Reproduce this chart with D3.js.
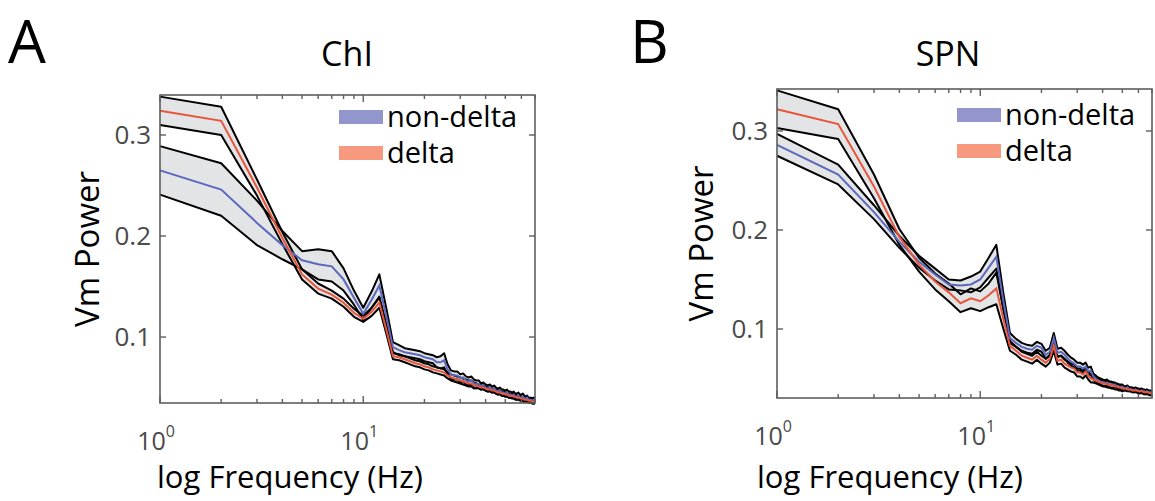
<!DOCTYPE html>
<html>
<head>
<meta charset="utf-8">
<script src="https://cdn.jsdelivr.net/npm/d3@7"></script>
<style>
  body { margin: 0; background: #fff; }
  svg { display: block; font-family: "Open Sans", "Noto Sans", sans-serif; }
</style>
</head>
<body>
<svg id="fig" width="1155" height="501"></svg>
<script>
// frequency bins (Hz)
var freq = [1,2,3,4,5,6,7,8,9,10,11,12,13,14,15,16,17,18,19,20,
  21,22,23,24,25,26,27,28,29,30,31,32,33,34,35,36,37,38,39,40,
  41,42,43,44,45,46,47,48,49,50,51,52,53,54,55,56,57,58,59,60,
  61,62,63,64,65,66,67,68,69,70]

// ChI - non-delta (mean, sem)
var chiNonMean = [0.265,0.246,0.213,0.191,0.176,0.172,0.170,0.157,0.139,0.123,
  0.137,0.151,0.120,0.090,0.087,0.085,0.084,0.083,0.082,0.080,
  0.079,0.078,0.075,0.075,0.077,0.068,0.063,0.062,0.062,0.059,
  0.060,0.057,0.056,0.057,0.054,0.053,0.054,0.051,0.052,0.050,
  0.049,0.050,0.048,0.049,0.047,0.046,0.047,0.045,0.045,0.044,
  0.045,0.043,0.043,0.042,0.043,0.041,0.041,0.042,0.040,0.040,
  0.041,0.039,0.039,0.040,0.038,0.038,0.038,0.037,0.038,0.037]
var chiNonErr = [0.024,0.026,0.022,0.014,0.009,0.015,0.015,0.011,0.007,0.006,
  0.008,0.011,0.008,0.005,0.005,0.004,0.004,0.004,0.004,0.004,
  0.004,0.004,0.005,0.006,0.007,0.005,0.004,0.004,0.004,0.004,
  0.004,0.004,0.004,0.004,0.004,0.004,0.003,0.003,0.003,0.003,
  0.003,0.003,0.003,0.003,0.003,0.003,0.003,0.003,0.003,0.003,
  0.003,0.003,0.003,0.003,0.003,0.003,0.003,0.003,0.003,0.003,
  0.003,0.003,0.002,0.002,0.002,0.002,0.002,0.002,0.002,0.002]

// ChI - delta
var chiDelMean = [0.324,0.314,0.248,0.198,0.162,0.148,0.142,0.134,0.124,0.118,
  0.125,0.134,0.107,0.081,0.080,0.078,0.076,0.074,0.073,0.071,
  0.070,0.068,0.067,0.066,0.065,0.062,0.060,0.059,0.058,0.057,
  0.056,0.055,0.054,0.054,0.052,0.052,0.051,0.050,0.050,0.049,
  0.048,0.048,0.047,0.047,0.046,0.045,0.045,0.044,0.044,0.043,
  0.043,0.042,0.042,0.042,0.041,0.041,0.040,0.040,0.040,0.039,
  0.039,0.038,0.038,0.038,0.037,0.037,0.037,0.036,0.036,0.036]
var chiDelErr = [0.014,0.014,0.008,0.006,0.005,0.005,0.004,0.004,0.004,0.003,
  0.004,0.005,0.004,0.003,0.003,0.003,0.003,0.003,0.003,0.003,
  0.003,0.003,0.003,0.003,0.003,0.003,0.003,0.003,0.003,0.003,
  0.003,0.003,0.003,0.003,0.003,0.002,0.002,0.002,0.002,0.002,
  0.002,0.002,0.002,0.002,0.002,0.002,0.002,0.002,0.002,0.002,
  0.002,0.002,0.002,0.002,0.002,0.002,0.002,0.002,0.002,0.002,
  0.002,0.002,0.002,0.002,0.002,0.002,0.002,0.002,0.002,0.002]

// SPN - non-delta
var spnNonMean = [0.286,0.256,0.218,0.188,0.168,0.155,0.145,0.144,0.145,0.150,
  0.162,0.173,0.128,0.091,0.086,0.082,0.080,0.079,0.083,0.081,
  0.074,0.077,0.091,0.076,0.077,0.074,0.070,0.067,0.065,0.062,
  0.062,0.060,0.062,0.057,0.058,0.052,0.050,0.048,0.047,0.046,
  0.045,0.046,0.044,0.044,0.043,0.044,0.042,0.042,0.041,0.042,
  0.040,0.040,0.041,0.039,0.039,0.039,0.038,0.039,0.038,0.038,
  0.037,0.038,0.037,0.037,0.036,0.037,0.036,0.036,0.036,0.035]
var spnNonErr = [0.011,0.010,0.007,0.006,0.006,0.006,0.005,0.005,0.008,0.008,
  0.010,0.012,0.008,0.005,0.004,0.004,0.004,0.004,0.004,0.004,
  0.004,0.004,0.005,0.004,0.004,0.004,0.004,0.004,0.004,0.004,
  0.004,0.004,0.004,0.004,0.004,0.003,0.003,0.003,0.003,0.003,
  0.003,0.003,0.003,0.003,0.003,0.002,0.002,0.002,0.002,0.002,
  0.002,0.002,0.002,0.002,0.002,0.002,0.002,0.002,0.002,0.002,
  0.002,0.002,0.002,0.002,0.002,0.002,0.002,0.002,0.002,0.002]

// SPN - delta
var spnDelMean = [0.322,0.307,0.244,0.193,0.165,0.148,0.137,0.126,0.131,0.128,
  0.134,0.141,0.110,0.083,0.078,0.073,0.071,0.069,0.073,0.069,
  0.066,0.070,0.083,0.068,0.069,0.065,0.063,0.061,0.060,0.056,
  0.056,0.054,0.057,0.053,0.050,0.049,0.048,0.047,0.046,0.045,
  0.045,0.044,0.044,0.043,0.043,0.042,0.042,0.041,0.041,0.040,
  0.040,0.040,0.039,0.039,0.039,0.038,0.038,0.038,0.038,0.037,
  0.037,0.037,0.037,0.036,0.036,0.036,0.036,0.035,0.035,0.035]
var spnDelErr = [0.019,0.015,0.012,0.008,0.007,0.008,0.009,0.009,0.010,0.010,
  0.012,0.016,0.010,0.005,0.004,0.004,0.004,0.004,0.004,0.004,
  0.004,0.004,0.005,0.004,0.004,0.004,0.004,0.004,0.004,0.004,
  0.004,0.004,0.004,0.004,0.004,0.003,0.003,0.003,0.003,0.003,
  0.003,0.003,0.003,0.003,0.003,0.003,0.003,0.003,0.003,0.003,
  0.002,0.002,0.002,0.002,0.002,0.002,0.002,0.002,0.002,0.002,
  0.002,0.002,0.002,0.002,0.002,0.002,0.002,0.002,0.002,0.002]

var yTicks = [0.1, 0.2, 0.3]
var legendLabels = ['non-delta', 'delta']

var lineCol = {'non-delta': '#5a68bd', 'delta': '#e8553b'}
var swatchCol = {'non-delta': '#9396cc', 'delta': '#f7997f'}

var svg = d3.select('#fig')

function drawPanel(p) {

  var x = d3.scaleLog().domain([1, 70]).range([p.left, p.right])
  var y = d3.scaleLinear().domain(p.yDomain).range([p.bottom, p.top])

  var g = svg.append('g')

  var series = [
    {name: 'non-delta', mean: p.nonMean, err: p.nonErr},
    {name: 'delta', mean: p.delMean, err: p.delErr}
  ]

  var area = d3.area()
    .x(function(d){ return x(d.f) })
    .y0(function(d){ return y(d.m - d.e) })
    .y1(function(d){ return y(d.m + d.e) })

  var edgeHi = d3.line().x(function(d){ return x(d.f) }).y(function(d){ return y(d.m + d.e) })
  var edgeLo = d3.line().x(function(d){ return x(d.f) }).y(function(d){ return y(d.m - d.e) })
  var meanLine = d3.line().x(function(d){ return x(d.f) }).y(function(d){ return y(d.m) })

  series.forEach(function(s){
    s.pts = freq.map(function(f, i){ return {f: f, m: s.mean[i], e: s.err[i]} })
  })

  // shaded sem bands with black edges
  series.forEach(function(s){
    g.append('path').attr('d', area(s.pts))
      .style('fill', '#c8c9cb').style('fill-opacity', 0.5).style('stroke', 'none')
  })
  series.forEach(function(s){
    g.append('path').attr('d', edgeHi(s.pts))
      .style('fill', 'none').style('stroke', '#000').style('stroke-width', 2).style('stroke-linejoin', 'round')
    g.append('path').attr('d', edgeLo(s.pts))
      .style('fill', 'none').style('stroke', '#000').style('stroke-width', 2).style('stroke-linejoin', 'round')
  })
  series.forEach(function(s){
    g.append('path').attr('d', meanLine(s.pts))
      .style('fill', 'none').style('stroke', lineCol[s.name]).style('stroke-width', 2)
  })

  // box + ticks (inside, all four sides)
  var axCol = '#5e5e5e'
  g.append('rect')
    .attr('x', p.left).attr('y', p.top)
    .attr('width', p.right - p.left).attr('height', p.bottom - p.top)
    .style('fill', 'none').style('stroke', axCol).style('stroke-width', 1.6)

  var minor = [2,3,4,5,6,7,8,9,20,30,40,50,60,70]
  var major = [1, 10]
  minor.forEach(function(f){
    g.append('line').attr('x1', x(f)).attr('x2', x(f)).attr('y1', p.bottom).attr('y2', p.bottom - 4)
      .style('stroke', axCol).style('stroke-width', 1.4)
    g.append('line').attr('x1', x(f)).attr('x2', x(f)).attr('y1', p.top).attr('y2', p.top + 4)
      .style('stroke', axCol).style('stroke-width', 1.4)
  })
  major.forEach(function(f){
    g.append('line').attr('x1', x(f)).attr('x2', x(f)).attr('y1', p.bottom).attr('y2', p.bottom - 7)
      .style('stroke', axCol).style('stroke-width', 1.4)
    g.append('line').attr('x1', x(f)).attr('x2', x(f)).attr('y1', p.top).attr('y2', p.top + 7)
      .style('stroke', axCol).style('stroke-width', 1.4)
    var t = g.append('text')
      .attr('x', x(f) - 4).attr('y', p.bottom + 47)
      .attr('text-anchor', 'middle')
      .style('font-size', '25px').style('fill', '#4a4a4a')
    t.append('tspan').text('10')
    t.append('tspan').attr('dy', -13).style('font-size', '16px').text(Math.log10(f))
  })
  yTicks.forEach(function(v){
    g.append('line').attr('x1', p.left).attr('x2', p.left + 6).attr('y1', y(v)).attr('y2', y(v))
      .style('stroke', axCol).style('stroke-width', 1.4)
    g.append('line').attr('x1', p.right).attr('x2', p.right - 6).attr('y1', y(v)).attr('y2', y(v))
      .style('stroke', axCol).style('stroke-width', 1.4)
    g.append('text')
      .attr('x', p.left - 9).attr('y', y(v) + 9)
      .attr('text-anchor', 'end')
      .style('font-size', '26px').style('fill', '#4a4a4a')
      .text(d3.format('.1f')(v))
  })

  // legend
  legendLabels.forEach(function(name, i){
    var ly = p.legY + i * 36
    g.append('rect')
      .attr('x', p.legX).attr('y', ly - 7).attr('width', 44).attr('height', 14)
      .style('fill', swatchCol[name])
    g.append('text')
      .attr('x', p.legX + 48).attr('y', ly + 10)
      .style('font-size', '29px').style('fill', '#000')
      .text(name)
  })

  // labels
  g.append('text').attr('x', p.titleX).attr('y', 66)
    .attr('text-anchor', 'middle').style('font-size', '34px').text(p.title)
  g.append('text').attr('x', p.letterX).attr('y', 63)
    .style('font-size', '60px').text(p.letter)
  g.append('text')
    .attr('transform', 'translate(' + p.ylabX + ',' + ((p.top + p.bottom) / 2) + ') rotate(-90)')
    .attr('text-anchor', 'middle').style('font-size', '33px').text('Vm Power')
  g.append('text').attr('x', p.xlabX).attr('y', 488)
    .attr('text-anchor', 'middle').style('font-size', '31px').text('log Frequency (Hz)')
}

drawPanel({
  left: 160, right: 535, top: 95, bottom: 403, yDomain: [0.0347, 0.3396],
  nonMean: chiNonMean, nonErr: chiNonErr, delMean: chiDelMean, delErr: chiDelErr,
  legX: 339, legY: 117, title: 'ChI', titleX: 347, letter: 'A', letterX: 8,
  ylabX: 99, xlabX: 290
})

drawPanel({
  left: 777, right: 1152, top: 89, bottom: 398, yDomain: [0.0303, 0.3424],
  nonMean: spnNonMean, nonErr: spnNonErr, delMean: spnDelMean, delErr: spnDelErr,
  legX: 957, legY: 115, title: 'SPN', titleX: 948, letter: 'B', letterX: 630,
  ylabX: 713, xlabX: 890
})
</script>
</body>
</html>
